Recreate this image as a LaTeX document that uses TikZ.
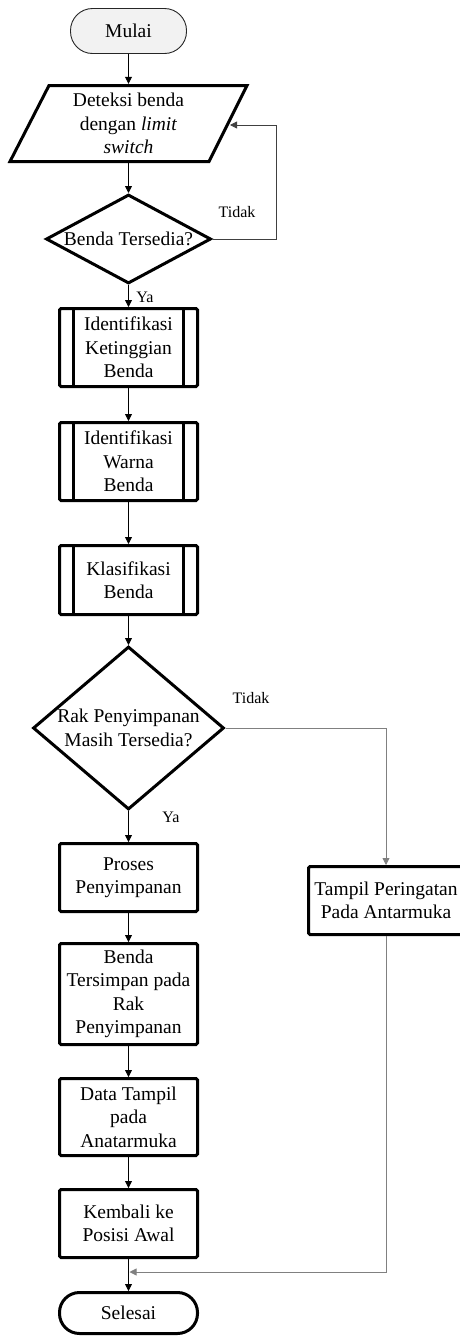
\documentclass[tikz,border=0pt]{standalone}
\usepackage{fontspec}
\setmainfont{Liberation Serif}
\usetikzlibrary{shapes.geometric,arrows.meta}
\begin{document}
\begin{tikzpicture}[x=1pt,y=-1pt,
  every node/.style={font=\fontsize{19.5}{23.5}\selectfont, align=center, inner sep=0pt},
  lbl/.style={font=\fontsize{16}{19}\selectfont},
  thickbox/.style={draw, line width=3pt, rectangle, rounded corners=1.5pt},
  procbox/.style={thickbox, minimum width=138pt},
  predef/.style={procbox, path picture={
      \draw[line width=3pt] ([xshift=14pt]path picture bounding box.north west) -- ([xshift=14pt]path picture bounding box.south west);
      \draw[line width=3pt] ([xshift=-14pt]path picture bounding box.north east) -- ([xshift=-14pt]path picture bounding box.south east);}},
  decision/.style={diamond, draw, line width=3pt, line join=miter},
  arr/.style={line width=0.8pt, -{Triangle[length=7pt,width=7pt]}},
  loopcol/.style={draw=black!75},
  branchcol/.style={draw=black!50}
]
\useasboundingbox (0,0) rectangle (460,1336);

% start
\node[draw=black!85, line width=0.9pt, fill=black!5, rounded corners=22pt,
      minimum width=116pt, minimum height=45pt] (start) at (128.5,31) {Mulai};

% input (parallelogram)
\node[minimum width=200pt, minimum height=79pt] (inp) at (128.5,123.5)
  {Deteksi benda\\dengan \textit{limit}\\\textit{switch}};
\draw[line width=3pt, line join=miter] (49,85.5) -- (247,85.5) -- (209,161.5) -- (10,161.5) -- cycle;
\coordinate (loopin) at (230,125);

% decision 1
\node[decision, minimum width=165pt, minimum height=89pt] (d1) at (128.5,239) {};
\node (d1t) at (d1) {Benda Tersedia?};

% predefined processes
\node[predef, minimum height=78pt] (b1) at (128.5,347.5) {Identifikasi\\Ketinggian\\Benda};
\node[predef, minimum height=78pt] (b2) at (128.5,461.5) {Identifikasi\\Warna\\Benda};
\node[predef, minimum height=69pt] (b3) at (128.5,580) {Klasifikasi\\Benda};

% decision 2
\node[decision, minimum width=191pt, minimum height=163pt] (d2) at (128.5,728) {};
\node (d2t) at (d2) {Rak Penyimpanan\\Masih Tersedia?};

% processes
\node[procbox, minimum height=68pt] (p1) at (128.5,877.5) {Proses\\Penyimpanan};
\node[procbox, minimum height=101pt] (p2) at (128.5,994) {Benda\\Tersimpan pada\\Rak\\Penyimpanan};
\node[procbox, minimum height=77pt] (p3) at (128.5,1117) {Data Tampil\\pada\\Anatarmuka};
\node[procbox, minimum height=68pt] (p4) at (128.5,1223.5) {Kembali ke\\Posisi Awal};
\node[thickbox, minimum width=155pt, minimum height=68pt] (warn) at (386,900.5) {Tampil Peringatan\\Pada Antarmuka};

% end
\node[draw, line width=3pt, rounded corners=20pt, minimum width=138pt, minimum height=41pt] (end) at (128.5,1313) {Selesai};
\coordinate (merge) at (129.5,1272);

% connectors
\draw[arr] (start.south) -- (inp.north);
\draw[arr] (inp.south) -- (d1.north);
\draw[arr, loopcol] (d1.east) -- ++(64,0) |- (loopin);
\draw[arr] (d1.south) -- (b1.north);
\draw[arr] (b1.south) -- (b2.north);
\draw[arr] (b2.south) -- (b3.north);
\draw[arr] (b3.south) -- (d2.north);
\draw[arr] (d2.south) -- (p1.north);
\draw[arr, branchcol] (d2.east) -| (warn.north);
\draw[arr] (p1.south) -- (p2.north);
\draw[arr] (p2.south) -- (p3.north);
\draw[arr] (p3.south) -- (p4.north);
\draw[arr] (p4.south) -- (end.north);
\draw[arr, branchcol] (warn.south) |- (merge);

% labels
\node[lbl] (t1) at (237,212) {Tidak};
\node[lbl] (y1) at (145,297) {Ya};
\node[lbl] (t2) at (251,698) {Tidak};
\node[lbl] (y2) at (171,817) {Ya};
\end{tikzpicture}
\end{document}
